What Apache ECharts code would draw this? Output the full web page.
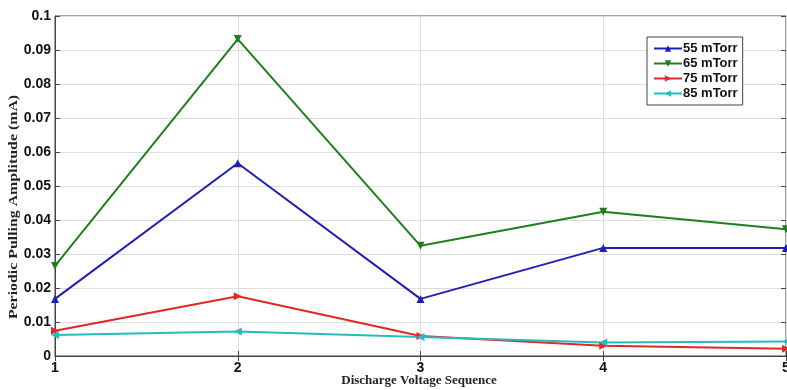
<!DOCTYPE html>
<html><head><meta charset="utf-8">
<script src="https://cdn.jsdelivr.net/npm/echarts@6/dist/echarts.min.js"></script>
<style>html,body{margin:0;padding:0;background:#fff}#c{width:787px;height:390px}</style>
</head><body><div id="c"></div>
<script>
const xValues = [1, 2, 3, 4, 5];
const s55 = [0.0168, 0.0567, 0.0168, 0.0318, 0.0318];
const s65 = [0.0265, 0.0932, 0.0324, 0.0424, 0.0373];
const s75 = [0.0074, 0.0176, 0.0059, 0.0030, 0.0021];
const s85 = [0.0062, 0.0072, 0.0056, 0.0040, 0.0043];
const names = ['55 mTorr', '65 mTorr', '75 mTorr', '85 mTorr'];
const xTitle = 'Discharge Voltage Sequence';
const yTitle = 'Periodic Pulling Amplitude (mA)';

const chart = echarts.init(document.getElementById('c'));
function mk(name, vals, color, rot) {
  return {
    name: name, type: 'line', data: xValues.map((x, i) => [x, vals[i]]),
    symbol: 'triangle', symbolSize: 8, symbolRotate: rot,
    lineStyle: {color: color, width: 2}, itemStyle: {color: color},
    animation: false, xAxisIndex: 0, yAxisIndex: 0
  };
}
const tickFont = {color: '#111', fontFamily: 'Liberation Sans', fontWeight: 'bold', fontSize: 14};
const titleFont = {fontFamily: 'Liberation Serif', fontWeight: 'bold', fontSize: 13, fill: '#222'};
chart.setOption({
  animation: false,
  grid: {left: 55, right: 1, top: 16, bottom: 34, show: true, borderColor: '#444', borderWidth: 1,
         outerBoundsMode: 'none', containLabel: false},
  graphic: [
    {type: 'text', x: 419, y: 381, style: Object.assign({text: xTitle, align: 'center', verticalAlign: 'middle'}, titleFont)},
    {type: 'text', x: 14, y: 207, rotation: Math.PI / 2, scaleX: 1.22, scaleY: 1,
     style: Object.assign({text: yTitle, align: 'center', verticalAlign: 'middle'}, titleFont)}
  ],
  legend: {
    data: names, orient: 'vertical', left: 647, top: 37, itemGap: 2,
    itemWidth: 28, itemHeight: 8, padding: [5, 5, 5, 6],
    backgroundColor: '#fff', borderColor: '#444', borderWidth: 1,
    textStyle: {fontFamily: 'Liberation Sans', fontWeight: 'bold', fontSize: 13, color: '#111', padding: [0,0,0,-4]}
  },
  xAxis: [{
    type: 'value', min: 1, max: 5, interval: 1,
    axisLine: {lineStyle: {color: '#444'}},
    axisTick: {inside: true, length: 5, lineStyle: {color: '#444'}},
    axisLabel: Object.assign({margin: 5}, tickFont),
    splitLine: {show: true, lineStyle: {color: '#ddd', width: 1}}
  }, {
    type: 'value', min: 1, max: 5, interval: 1, position: 'top',
    axisLine: {show: false}, axisTick: {inside: true, length: 5, lineStyle: {color: '#444'}},
    axisLabel: {show: false}, splitLine: {show: false}
  }],
  yAxis: [{
    type: 'value', min: 0, max: 0.1, interval: 0.01,
    axisLine: {show: true, lineStyle: {color: '#444'}},
    axisTick: {inside: true, length: 5, lineStyle: {color: '#444'}},
    axisLabel: Object.assign({margin: 4, formatter: v => String(+v.toFixed(2))}, tickFont),
    splitLine: {show: true, lineStyle: {color: '#ddd', width: 1}}
  }, {
    type: 'value', min: 0, max: 0.1, interval: 0.01, position: 'right',
    axisLine: {show: false}, axisTick: {show: true, inside: true, length: 5, lineStyle: {color: '#444'}},
    axisLabel: {show: false}, splitLine: {show: false}
  }],
  series: [
    mk(names[0], s55, '#1f1fb4', 0),
    mk(names[1], s65, '#1f7f1f', 180),
    mk(names[2], s75, '#e02828', -90),
    mk(names[3], s85, '#25bcbc', 90)
  ]
});
</script></body></html>
